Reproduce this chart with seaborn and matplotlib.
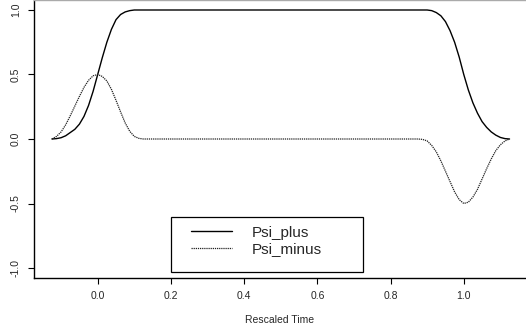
import numpy as np
import pandas as pd
import matplotlib
matplotlib.use("Agg")
import matplotlib.pyplot as plt
from matplotlib.patches import Rectangle
import seaborn as sns

# ---- data ----
time_rise = [-0.125, -0.1125, -0.1, -0.0875, -0.075, -0.0625, -0.05, -0.0375, -0.025, -0.0125,
             0.0, 0.0125, 0.025, 0.0375, 0.05, 0.0625, 0.075, 0.0875, 0.1, 0.1125, 0.125]
plus_rise = [0.0, 0.003, 0.01, 0.025, 0.05, 0.075, 0.115, 0.175, 0.26, 0.37,
             0.5, 0.63, 0.75, 0.85, 0.925, 0.965, 0.985, 0.995, 1.0, 1.0, 1.0]
minus_rise = [0.0, 0.02, 0.055, 0.11, 0.18, 0.255, 0.33, 0.4, 0.455, 0.49,
              0.5, 0.485, 0.45, 0.385, 0.3, 0.21, 0.125, 0.06, 0.02, 0.005, 0.0]

time_fall = [0.875, 0.8875, 0.9, 0.9125, 0.925, 0.9375, 0.95, 0.9625, 0.975, 0.9875,
             1.0, 1.0125, 1.025, 1.0375, 1.05, 1.0625, 1.075, 1.0875, 1.1, 1.1125, 1.125]
plus_fall = [1.0, 1.0, 1.0, 0.995, 0.98, 0.955, 0.91, 0.84, 0.75, 0.635,
             0.5, 0.38, 0.28, 0.2, 0.135, 0.09, 0.055, 0.03, 0.012, 0.003, 0.0]
minus_fall = [0.0, -0.003, -0.015, -0.05, -0.1, -0.17, -0.25, -0.33, -0.41, -0.47,
              -0.5, -0.49, -0.45, -0.39, -0.31, -0.23, -0.155, -0.09, -0.045, -0.015, 0.0]

time_all = time_rise + time_fall
psi_plus = plus_rise + plus_fall
psi_minus = minus_rise + minus_fall

x_ticks = [0.0, 0.2, 0.4, 0.6, 0.8, 1.0]
x_tick_labels = ["0.0", "0.2", "0.4", "0.6", "0.8", "1.0"]
y_ticks = [1.0, 0.5, 0.0, -0.5, -1.0]
y_tick_labels = ["1.0", "0.5", "0.0", "-0.5", "-1.0"]
series_names = ["Psi_plus", "Psi_minus"]
x_label = "Rescaled Time"

# ---- plotting ----
sns.set_style("ticks")
plt.rcParams['font.family'] = ['Liberation Sans', 'DejaVu Sans']

W, H = 526, 331
fig = plt.figure(figsize=(W / 100, H / 100), dpi=100)
ax = fig.add_axes([34 / W, (H - 278) / H, 1 - 34 / W, 278 / H])

df = pd.DataFrame({"t": time_all, "Psi_plus": psi_plus, "Psi_minus": psi_minus})

sns.lineplot(data=df, x="t", y="Psi_plus", ax=ax, color="black", lw=1.0,
             sort=False, estimator=None, label=series_names[0])
sns.lineplot(data=df, x="t", y="Psi_minus", ax=ax, color="#222222", lw=0.9,
             linestyle=(0, (1, 0.7)), sort=False, estimator=None, label=series_names[1])

ax.set_xlim(-0.174, 1.170)
ax.set_ylim(-1.0775, 1.0775)

ax.set_xticks(x_ticks)
ax.set_xticklabels(x_tick_labels, fontsize=7.5)
ax.set_yticks(y_ticks)
ax.set_yticklabels(y_tick_labels, fontsize=7.5, rotation=90, va="center")
ax.tick_params(axis="both", direction="out", length=4.5, width=0.8, color="black", pad=5)
ax.set_xlabel(x_label, fontsize=7.5, labelpad=10)
ax.set_ylabel("")

for s in ["left", "bottom"]:
    ax.spines[s].set_color("black")
    ax.spines[s].set_linewidth(1.0)
ax.spines["right"].set_visible(False)
ax.spines["top"].set_color("#aaaaaa")
ax.spines["top"].set_linewidth(1.0)

# legend box (R style) drawn in figure pixels
box = Rectangle((171 / W, 1 - 272 / H), 192 / W, 55 / H, transform=fig.transFigure,
                facecolor="white", edgecolor="black", linewidth=0.9, zorder=5,
                clip_on=False)
ax.add_patch(box)

leg = ax.legend(loc="upper left",
                bbox_to_anchor=(191 / W, 1 - 225.5 / H),
                bbox_transform=fig.transFigure,
                fontsize=11, frameon=False, borderaxespad=0,
                handlelength=2.7, handletextpad=1.25, borderpad=0,
                labelspacing=0.18)
leg.set_zorder(6)

fig.savefig("out.png", dpi=100)
